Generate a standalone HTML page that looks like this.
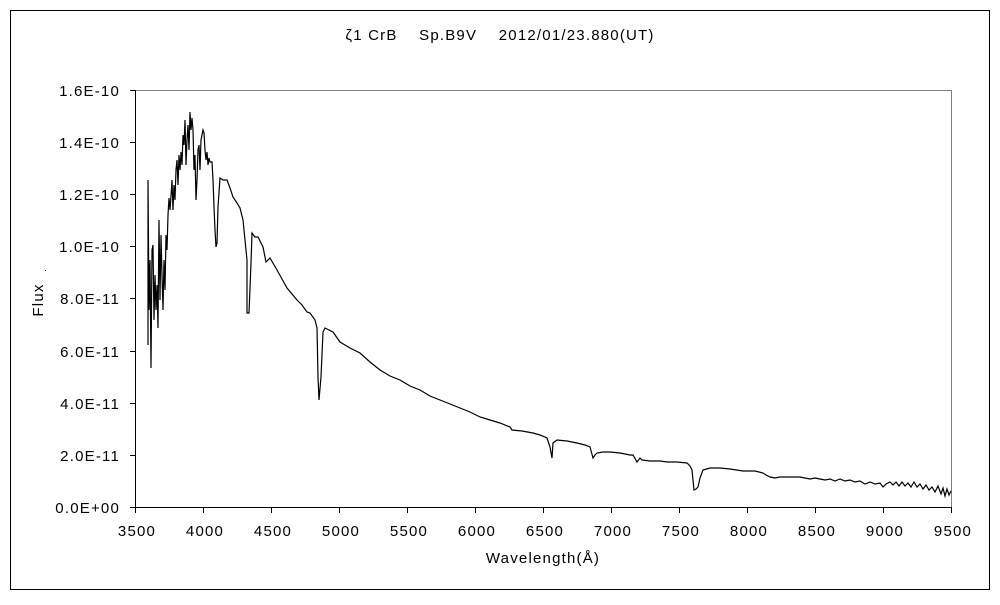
<!DOCTYPE html>
<html><head><meta charset="utf-8"><style>
body{margin:0;background:#fff}
svg text{font-family:"Liberation Sans","Noto Sans CJK JP",sans-serif;font-size:15px;fill:#000;letter-spacing:1.2px}
</style></head><body>
<svg width="1000" height="600" viewBox="0 0 1000 600" xmlns="http://www.w3.org/2000/svg">
<rect x="10.5" y="10.5" width="979" height="579" fill="#fff" stroke="#000"/>
<text x="500" y="40" text-anchor="middle" xml:space="preserve">ζ1 CrB　 Sp.B9V　 2012/01/23.880(UT)</text>
<polyline points="135.5,90.5 951.5,90.5 951.5,507.5" fill="none" stroke="#808080"/>
<line x1="135.5" y1="90" x2="135.5" y2="508" stroke="#000"/>
<line x1="135" y1="507.5" x2="952" y2="507.5" stroke="#000"/>
<g stroke="#000">
<line x1="130" y1="90.5" x2="135" y2="90.5"/><line x1="130" y1="142.5" x2="135" y2="142.5"/>
<line x1="130" y1="194.5" x2="135" y2="194.5"/><line x1="130" y1="246.5" x2="135" y2="246.5"/>
<line x1="130" y1="298.5" x2="135" y2="298.5"/><line x1="130" y1="351.5" x2="135" y2="351.5"/>
<line x1="130" y1="403.5" x2="135" y2="403.5"/><line x1="130" y1="455.5" x2="135" y2="455.5"/>
<line x1="130" y1="507.5" x2="135" y2="507.5"/>
<line x1="135.5" y1="507" x2="135.5" y2="513"/><line x1="203.5" y1="507" x2="203.5" y2="513"/>
<line x1="271.5" y1="507" x2="271.5" y2="513"/><line x1="339.5" y1="507" x2="339.5" y2="513"/>
<line x1="407.5" y1="507" x2="407.5" y2="513"/><line x1="475.5" y1="507" x2="475.5" y2="513"/>
<line x1="543.5" y1="507" x2="543.5" y2="513"/><line x1="611.5" y1="507" x2="611.5" y2="513"/>
<line x1="679.5" y1="507" x2="679.5" y2="513"/><line x1="747.5" y1="507" x2="747.5" y2="513"/>
<line x1="815.5" y1="507" x2="815.5" y2="513"/><line x1="883.5" y1="507" x2="883.5" y2="513"/>
<line x1="951.5" y1="507" x2="951.5" y2="513"/>
</g>
<g text-anchor="end">
<text x="120" y="96">1.6E-10</text><text x="120" y="148">1.4E-10</text>
<text x="120" y="200">1.2E-10</text><text x="120" y="252">1.0E-10</text>
<text x="120" y="304">8.0E-11</text><text x="120" y="357">6.0E-11</text>
<text x="120" y="409">4.0E-11</text><text x="120" y="461">2.0E-11</text>
<text x="120" y="513">0.0E+00</text>
</g>
<g text-anchor="middle">
<text x="137" y="536">3500</text><text x="205" y="536">4000</text><text x="273" y="536">4500</text>
<text x="341" y="536">5000</text><text x="409" y="536">5500</text><text x="477" y="536">6000</text>
<text x="545" y="536">6500</text><text x="613" y="536">7000</text><text x="681" y="536">7500</text>
<text x="749" y="536">8000</text><text x="817" y="536">8500</text><text x="885" y="536">9000</text>
<text x="953" y="536">9500</text>
<text x="543" y="563">Wavelength(Å)</text>
</g>
<text x="43" y="300" text-anchor="middle" transform="rotate(-90 43 300)">Flux</text>
<rect x="45" y="270" width="1" height="1" fill="#000"/>
<polyline fill="none" stroke="#000" stroke-width="1.2" points="148,345 148,180 149,310 150,260 151,368 152,250 153,245 154,320 155,275 156,310 157,285 158,328 159,220 160,300 161,235 162,275 163,310 164,260 165,290 166,235 167,250 168,215 169,198 170,210 171,196 172,180 173,210 174,185 175,200 176,170 177,160 178,185 179,155 180,170 181,152 182,165 183,135 184,145 185,120 186,165 187,140 188,125 189,150 190,112 191,130 192,118 193,130 194,170 195,155 196,200 197,180 198,150 199,145 200,170 201,140 202,135 203,130 204,133 205,150 206,160 207,152 208,165 209,158 210,162 212,162 213,180 214,207 215,230 216,247 217,243 218,207 220,178 223,180 227,180 230,188 233,197 237,203 240,208 243,220 245,240 247,260 247,313 249,313 251,263 252,233 255,237 258,237 261,243 263,247 266,262 270,258 277,270 282,279 287,288 292,294 297,300 302,305 307,312 310,313 315,320 317,328 318,377 319,400 321,377 323,332 325,328 329,330 333,332 340,342 350,348 360,353 370,362 380,370 390,376 400,380 410,386 420,390 430,396 440,400 450,404 460,408 470,412 480,417 490,420 500,423 510,427 512,430 522,431 533,433 540,435 547,438 550,447 552,458 553,443 557,440 567,441 577,443 585,445 590,447 593,458 595,455 597,453 603,452 610,452 620,453 630,455 633,455 637,462 640,458 642,460 650,461 660,461 667,462 677,462 687,463 690,466 692,470 694,490 696,489 698,487 700,478 703,470 710,468 720,468 730,469 743,471 755,471 763,473 766,475 770,477 775,478 780,477 790,477 800,477 805,478 810,479 815,478 820,479 825,480 830,479 835,481 840,479 845,481 850,480 855,482 860,481 865,484 870,482 875,484 880,483 883,487 886,484 890,482 893,485 896,482 899,486 902,482 905,486 908,483 911,487 914,482 917,487 920,484 923,489 926,485 929,490 932,487 935,492 938,486 941,494 943,488 945,496 947,489 949,495 951,491"/>
</svg>
</body></html>
